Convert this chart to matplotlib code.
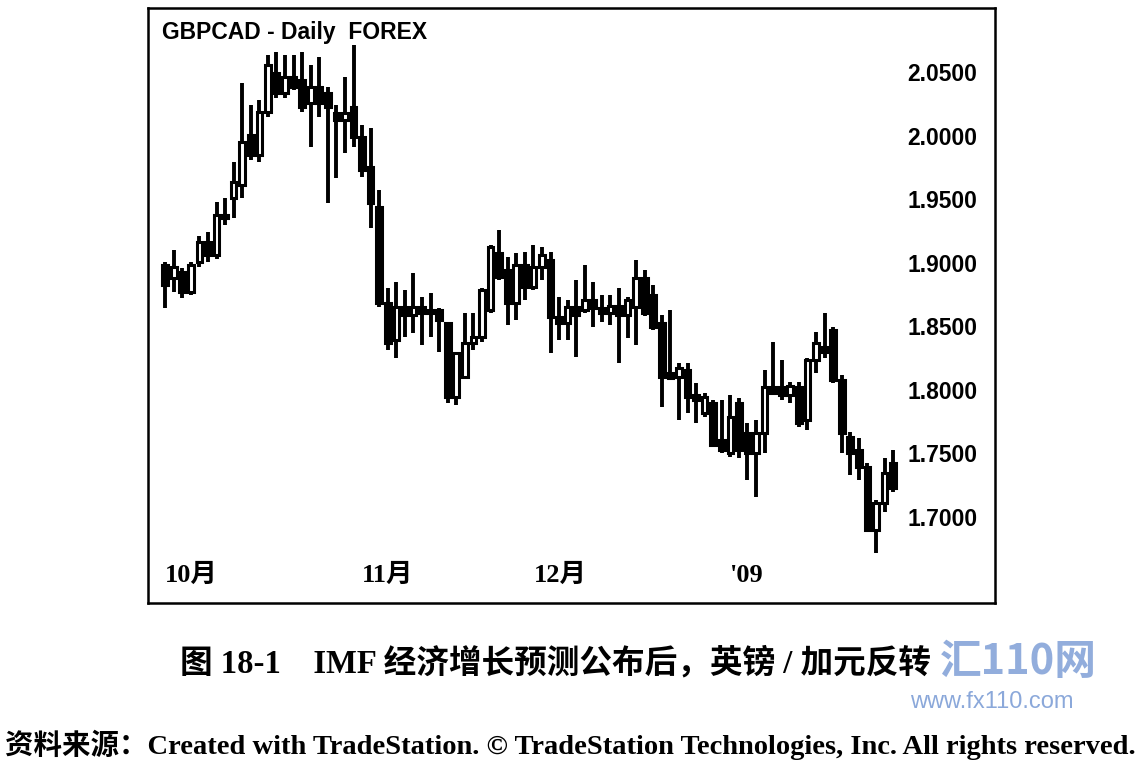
import matplotlib
matplotlib.use("Agg")
import matplotlib.pyplot as plt
import numpy as np

# ---- data (GBPCAD daily, Oct 2008 - Jan 2009) ----
opens = [1.8982, 1.8880, 1.8927, 1.8770, 1.9006, 1.9163, 1.9061, 1.9375, 1.9509, 1.9611,
         2.0004, 1.9847, 2.0185, 2.0492, 2.0335, 2.0461, 2.0437, 2.0256, 2.0382, 2.0335,
         2.0178, 2.0122, 2.0225,
         1.9989, 1.9753, 1.9438, 1.8683, 1.8392, 1.8652, 1.8589, 1.8652, 1.8604, 1.8628,
         1.8526, 1.7944, 1.8101, 1.8369, 1.8416, 1.8628, 1.9076, 1.8943, 1.8683, 1.8982,
         1.8809, 1.8966, 1.9021, 1.8573, 1.8526, 1.8652, 1.8628, 1.8707, 1.8644, 1.8604,
         1.8660, 1.8589, 1.8652, 1.8880, 1.8746, 1.8526, 1.8133, 1.8101, 1.8156, 1.7960,
         1.7818, 1.7897, 1.7606,
         1.7503, 1.7897, 1.7661, 1.7503, 1.7661, 1.8022, 1.8022, 1.7960, 1.8022, 1.7763,
         1.8235, 1.8337, 1.8471, 1.8078, 1.7629, 1.7527, 1.7393, 1.6898, 1.7110, 1.7425]
highs = [1.9006, 1.9100, 1.8958, 1.9006, 1.9210, 1.9242, 1.9478, 1.9509, 1.9792, 2.0413,
         2.0240, 2.0280, 2.0634, 2.0657, 2.0634, 2.0634, 2.0657, 2.0555, 2.0618, 2.0382,
         2.0240, 2.0461, 2.0712,
         2.0083, 2.0060, 1.9572, 1.8801, 1.8848, 1.8785, 1.8920, 1.8730, 1.8762, 1.8644,
         1.8534, 1.8300, 1.8604, 1.8604, 1.8801, 1.9139, 1.9257, 1.9045, 1.9076, 1.9084,
         1.9139, 1.9124, 1.9084, 1.8730, 1.8707, 1.8864, 1.8982, 1.8848, 1.8746, 1.8746,
         1.8801, 1.8730, 1.9021, 1.8943, 1.8825, 1.8589, 1.8628, 1.8211, 1.8211, 1.8054,
         1.7975, 1.7920, 1.7920,
         1.7960, 1.7936, 1.7739, 1.7763, 1.8156, 1.8376, 1.8235, 1.8062, 1.8062, 1.8250,
         1.8455, 1.8604, 1.8494, 1.8117, 1.7668, 1.7621, 1.7425, 1.7134, 1.7464, 1.7527]
lows = [1.8644, 1.8770, 1.8722, 1.8746, 1.8966, 1.9006, 1.9030, 1.9297, 1.9352, 1.9509,
        1.9808, 1.9792, 2.0146, 2.0295, 2.0295, 2.0358, 2.0185, 1.9910, 2.0146, 1.9470,
        1.9666, 1.9863, 1.9910,
        1.9674, 1.9273, 1.8652, 1.8313, 1.8250, 1.8416, 1.8447, 1.8353, 1.8416, 1.8298,
        1.7897, 1.7880, 1.8093, 1.8313, 1.8376, 1.8604, 1.8864, 1.8510, 1.8549, 1.8707,
        1.8785, 1.8864, 1.8290, 1.8392, 1.8392, 1.8258, 1.8604, 1.8494, 1.8534, 1.8510,
        1.8211, 1.8408, 1.8353, 1.8580, 1.8470, 1.7865, 1.8078, 1.7763, 1.7818, 1.7739,
        1.7786, 1.7550, 1.7503,
        1.7472, 1.7464, 1.7291, 1.7157, 1.7503, 1.7960, 1.7920, 1.7897, 1.7708, 1.7684,
        1.8133, 1.8250, 1.8050, 1.7503, 1.7330, 1.7291, 1.6882, 1.6717, 1.7039, 1.7197]
closes = [1.8825, 1.8966, 1.8770, 1.8982, 1.9163, 1.9061, 1.9375, 1.9352, 1.9635, 1.9949,
          1.9847, 2.0185, 2.0555, 2.0335, 2.0461, 2.0382, 2.0225, 2.0382, 2.0256, 2.0225,
          2.0122, 2.0178, 1.9989,
          1.9729, 1.9470, 1.8683, 1.8369, 1.8652, 1.8589, 1.8652, 1.8604, 1.8628, 1.8549,
          1.7944, 1.8290, 1.8369, 1.8416, 1.8785, 1.9124, 1.8888, 1.8683, 1.8982, 1.8809,
          1.8966, 1.9061, 1.8573, 1.8526, 1.8652, 1.8589, 1.8707, 1.8644, 1.8604, 1.8660,
          1.8589, 1.8707, 1.8880, 1.8604, 1.8494, 1.8101, 1.8093, 1.8172, 1.7944, 1.7920,
          1.7944, 1.7566, 1.7527,
          1.7786, 1.7527, 1.7503, 1.7661, 1.8022, 1.7975, 1.7960, 1.8030, 1.7739, 1.8235,
          1.8369, 1.8298, 1.8078, 1.7661, 1.7503, 1.7393, 1.6898, 1.7110, 1.7346, 1.7230]

month_labels = ["10月", "11月", "12月", "'09"]
month_start_idx = [0, 23, 43, 66]
y_ticks = [1.70, 1.75, 1.80, 1.85, 1.90, 1.95, 2.00, 2.05]
y_tick_labels = ["1.7000", "1.7500", "1.8000", "1.8500", "1.9000", "1.9500", "2.0000", "2.0500"]

title_text = "GBPCAD - Daily  FOREX"
caption_text = "图 18-1    IMF 经济增长预测公布后，英镑 / 加元反转"
source_text = "资料来源：Created with TradeStation. © TradeStation Technologies, Inc. All rights reserved."

# ---- figure ----
W, H = 1141, 761
fig = plt.figure(figsize=(W / 100, H / 100), dpi=100)
fig.patch.set_facecolor("white")
ax = fig.add_axes([148 / W, 1 - 603 / H, (995 - 148) / W, (603 - 8) / H])

o = np.array(opens); h = np.array(highs); l = np.array(lows); c = np.array(closes)
x = np.arange(len(o))
up = c >= o

ax.vlines(x, l, h, color="black", linewidth=2.8, zorder=2)
body_bottom = np.minimum(o, c)
body_h = np.maximum(np.abs(c - o), 0.0018)
ax.bar(x[up], body_h[up], bottom=body_bottom[up], width=0.66,
       color="white", edgecolor="black", linewidth=2.2, zorder=3)
ax.bar(x[~up], body_h[~up], bottom=body_bottom[~up], width=0.66,
       color="black", edgecolor="black", linewidth=2.2, zorder=3)

ax.set_xlim(-2, 96.9)
ax.set_ylim(1.6323, 2.1003)

for s in ax.spines.values():
    s.set_linewidth(1.8)
    s.set_color("black")

# y ticks inside on the right
ax.yaxis.tick_right()
ax.set_yticks(y_ticks)
ax.set_yticklabels(y_tick_labels)
ax.tick_params(axis="y", direction="in", length=0, pad=-63, labelsize=16.5)
for t in ax.get_yticklabels():
    t.set_fontfamily("Liberation Sans")
    t.set_fontweight("bold")
    t.set_horizontalalignment("left")

# x ticks inside at the bottom
ax.set_xticks(month_start_idx)
ax.set_xticklabels(month_labels)
ax.tick_params(axis="x", direction="in", length=0, pad=-28, labelsize=19)
for t in ax.get_xticklabels():
    t.set_fontfamily(["Liberation Serif", "Noto Sans CJK SC"])
    t.set_fontweight("bold")
    t.set_horizontalalignment("left")

ax.text(0.016, 0.958, title_text, transform=ax.transAxes, ha="left", va="center",
        fontsize=16.5, fontweight="bold", family="Liberation Sans")

# caption and source
fig.text(556 / W, 1 - 663 / H, caption_text, ha="center", va="center", fontsize=23.5,
         family=["Liberation Serif", "Noto Sans CJK SC"], fontweight="bold")
fig.text(570 / W, 1 - 745 / H, source_text, ha="center", va="center", fontsize=20.5,
         family=["Liberation Serif", "Noto Sans CJK SC"], fontweight="bold")

# watermark
fig.text(1018 / W, 1 - 662 / H, "汇110网", ha="center", va="center", fontsize=30,
         family=["Noto Sans CJK SC"], fontweight="bold", style="italic",
         color="#7f9fd6", alpha=0.85)
fig.text(992 / W, 1 - 702 / H, "www.fx110.com", ha="center", va="center", fontsize=17,
         family="Liberation Sans", color="#7f9fd6", alpha=0.9)

fig.savefig("out.png", dpi=100, facecolor="white")
